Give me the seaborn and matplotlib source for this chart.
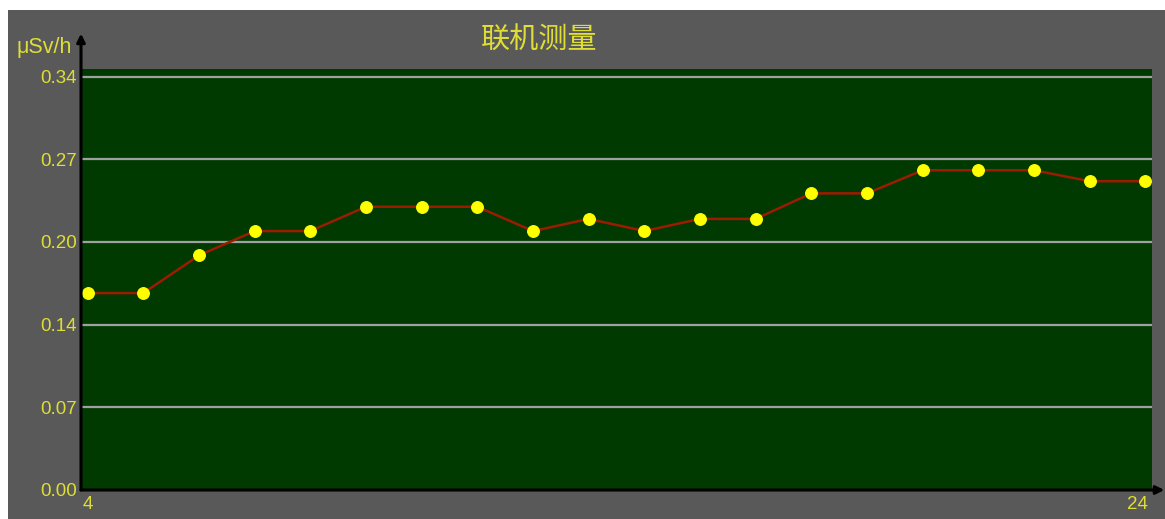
import matplotlib
matplotlib.use("Agg")
import matplotlib.pyplot as plt
import matplotlib.transforms as mtransforms
from matplotlib.patches import Rectangle
import seaborn as sns
import pandas as pd

# ---- data ----
dose_rate = [0.162, 0.162, 0.193, 0.213, 0.213, 0.233, 0.233, 0.233, 0.213, 0.223,
             0.213, 0.223, 0.223, 0.244, 0.244, 0.263, 0.263, 0.263, 0.254, 0.254]
sample_index = list(range(len(dose_rate)))
x_tick_labels = ["4", "24"]
y_ticks = [0.0, 0.068, 0.136, 0.204, 0.272, 0.34]
y_tick_labels = ["0.00", "0.07", "0.14", "0.20", "0.27", "0.34"]
title = "联机测量"
unit = "μSv/h"

df = pd.DataFrame({"idx": sample_index, "val": dose_rate})

sns.set_theme(style="dark")
plt.rcParams["font.family"] = ["Liberation Sans", "Noto Sans CJK SC", "DejaVu Sans"]

W, H = 1165, 519
fig = plt.figure(figsize=(W / 100, H / 100), dpi=100)
fig.patch.set_facecolor("white")
GRAY = "#595959"
fig.patches.append(Rectangle((8 / W, 0), 1, (H - 10) / H, transform=fig.transFigure,
                             facecolor=GRAY, edgecolor="none", zorder=-10))

left, right, top, bottom = 81, 1152, 69, 490
ax = fig.add_axes([left / W, (H - bottom) / H, (right - left) / W, (bottom - top) / H])
ax.set_facecolor("#003a00")

YEL = "#dede36"
sns.lineplot(data=df, x="idx", y="val", ax=ax, color="#9c1c00", linewidth=1.8,
             marker="o", markersize=8.5, markerfacecolor="#ffff00",
             markeredgecolor="#ffff00", zorder=5)

ax.set_xlim(-0.12, len(dose_rate) - 1 + 0.12)
ax.set_ylim(0, 0.3463)
ax.set_yticks(y_ticks)
ax.set_yticklabels(y_tick_labels)
ax.set_xticks([sample_index[0], sample_index[-1]])
ax.set_xticklabels(x_tick_labels)
ax.set_xlabel("")
ax.set_ylabel("")
ax.grid(False)
for yv in y_ticks[1:]:
    ax.axhline(yv, color="#a0a0a0", linewidth=1.6, zorder=1)

ax.tick_params(axis="both", length=0, labelcolor=YEL, labelsize=13.5)
ax.tick_params(axis="y", pad=3)
ax.tick_params(axis="x", pad=4)
# shift last x label a little left
lbls = ax.get_xticklabels()
lbls[-1].set_horizontalalignment("right")
lbls[-1].set_transform(lbls[-1].get_transform() +
                       mtransforms.ScaledTranslation(3 / 100, 0, fig.dpi_scale_trans))

for s in ax.spines.values():
    s.set_visible(False)

# axis arrows
ax.annotate("", xy=(0, 1.084), xytext=(0, 0), xycoords="axes fraction",
            arrowprops=dict(arrowstyle="-|>", color="black", lw=2.2, mutation_scale=12,
                            shrinkA=0, shrinkB=0), annotation_clip=False, zorder=10)
ax.annotate("", xy=(1.0115, 0), xytext=(0, 0), xycoords="axes fraction",
            arrowprops=dict(arrowstyle="-|>", color="black", lw=2.2, mutation_scale=12,
                            shrinkA=0, shrinkB=0), annotation_clip=False, zorder=10)

fig.text(44 / W, 1 - 47 / H, unit, color=YEL, fontsize=15.5, ha="center", va="center")
fig.text(539 / W, 1 - 41 / H, title, color=YEL, fontsize=21, ha="center", va="center",
         family=["Noto Sans CJK SC", "DejaVu Sans"])

fig.savefig("out.png", dpi=100, facecolor=fig.get_facecolor())
